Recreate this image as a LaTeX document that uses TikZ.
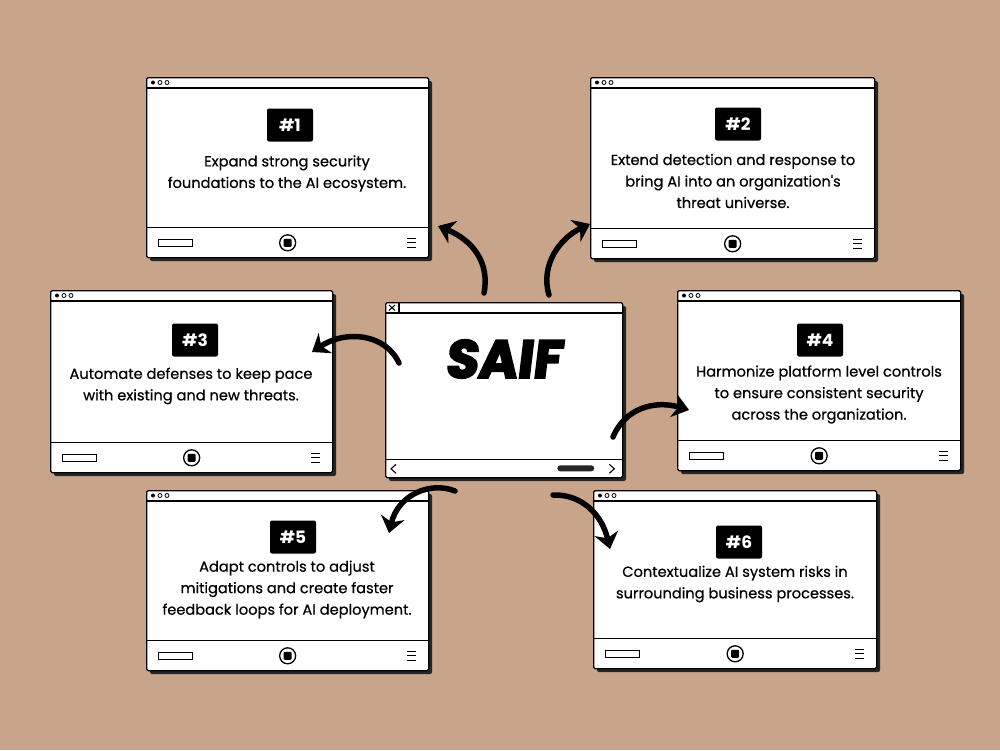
\documentclass[tikz,border=0pt]{standalone}
\usepackage{fontspec}
\setmainfont{Poppins}
\newfontfamily\bodyfont[FakeBold=0.6]{Poppins}
\newfontfamily\saiffont[FakeSlant=0.12,FakeBold=4]{Poppins}
\usetikzlibrary{arrows.meta}
\definecolor{paper}{RGB}{199,164,138}
\definecolor{shadowc}{RGB}{38,38,38}
\tikzset{
 winbody/.style={draw=black, fill=white, line width=1.3pt, rounded corners=1.5pt, inner sep=0pt, anchor=north west},
 shadowbox/.style={fill=shadowc, rounded corners=2pt},
 barline/.style={line width=1.2pt},
 numtag/.style={fill=black, text=white, rounded corners=2pt, minimum width=46pt, minimum height=33pt, font=\fontsize{17}{20}\selectfont\bfseries, inner sep=0pt},
 bodytext/.style={align=center, font=\bodyfont\fontsize{14.6}{21.5}\selectfont, text=black, inner sep=0pt},
 bigarrow/.style={line width=5.5pt, -{Stealth[length=16pt,width=24pt,inset=5pt]}, line cap=round},
}
\newcommand\saifwin[5]{%
 \fill[shadowbox] (#2+4,#3+4) rectangle (#2+#4+4,#3+#5+4);
 \node[winbody, minimum width=#4pt, minimum height=#5pt] (#1) at (#2,#3) {};
 \draw[barline] ([yshift=-11pt]#1.north west) -- ([yshift=-11pt]#1.north east);
 \draw[barline] ([yshift=31pt]#1.south west) -- ([yshift=31pt]#1.south east);
 \fill ([xshift=7pt,yshift=-5.5pt]#1.north west) circle (2pt);
 \draw[line width=0.8pt] ([xshift=14pt,yshift=-5.5pt]#1.north west) circle (2pt);
 \draw[line width=0.8pt] ([xshift=21pt,yshift=-5.5pt]#1.north west) circle (2pt);
 \draw[line width=1pt] ([xshift=12pt,yshift=12pt]#1.south west) rectangle ([xshift=46pt,yshift=19pt]#1.south west);
 \draw[line width=1.3pt] ([yshift=15.5pt]#1.south) circle (8pt);
 \fill[rounded corners=1pt] ([xshift=-4pt,yshift=11.5pt]#1.south) rectangle ([xshift=4pt,yshift=19.5pt]#1.south);
 \foreach \k in {11,15.5,20} \draw[line width=0.9pt] ([xshift=-22pt,yshift=\k pt]#1.south east) -- ([xshift=-13pt,yshift=\k pt]#1.south east);
}
\begin{document}
\begin{tikzpicture}[x=1pt,y=-1pt]
\fill[paper] (0,0) rectangle (1000,750);
\useasboundingbox (0,0) rectangle (1000,750);

% windows
\saifwin{w1}{146}{77}{282}{180}
\saifwin{w2}{590}{77}{284}{181}
\saifwin{w3}{50}{290}{282}{182}
\saifwin{w4}{677}{290}{283}{180}
\saifwin{w5}{146}{490}{282}{180}
\saifwin{w6}{593}{490}{283}{178}

% center window
\fill[shadowbox] (389,306) rectangle (626,481);
\node[winbody, minimum width=237pt, minimum height=175pt] (c) at (385,302) {};
\draw[barline] ([yshift=-11pt]c.north west) -- ([yshift=-11pt]c.north east);
\draw[barline] ([yshift=19pt]c.south west) -- ([yshift=19pt]c.south east);
\draw[line width=1.1pt] ([xshift=14pt]c.north west) -- ([xshift=14pt,yshift=-11pt]c.north west);
\draw[line width=1pt] ([xshift=4pt,yshift=-3pt]c.north west) -- ([xshift=10pt,yshift=-8.5pt]c.north west);
\draw[line width=1pt] ([xshift=10pt,yshift=-3pt]c.north west) -- ([xshift=4pt,yshift=-8.5pt]c.north west);
\draw[line width=1.1pt] ([xshift=11pt,yshift=14pt]c.south west) -- ([xshift=6pt,yshift=9.5pt]c.south west) -- ([xshift=11pt,yshift=5pt]c.south west);
\draw[line width=1.1pt] ([xshift=-14pt,yshift=14pt]c.south east) -- ([xshift=-9pt,yshift=9.5pt]c.south east) -- ([xshift=-14pt,yshift=5pt]c.south east);
\fill[shadowc, rounded corners=3pt] ([xshift=-66pt,yshift=7pt]c.south east) rectangle ([xshift=-29pt,yshift=13pt]c.south east);
\node[font=\saiffont\fontsize{53}{56}\selectfont\bfseries, inner sep=0pt] (saif) at (503,359) {SAIF};

% tags and texts
\node[numtag] (t1) at (290,125) {\#1};
\node[bodytext] (x1) at (287,173.5) {Expand strong security\\foundations to the AI ecosystem.};
\node[numtag] (t2) at (738,124) {\#2};
\node[bodytext] (x2) at (733,181) {Extend detection and response to\\bring AI into an organization's\\threat universe.};
\node[numtag] (t3) at (195,340) {\#3};
\node[bodytext] (x3) at (191,386) {Automate defenses to keep pace\\with existing and new threats.};
\node[numtag] (t4) at (820,340) {\#4};
\node[bodytext] (x4) at (819,394.5) {Harmonize platform level controls\\to ensure consistent security\\across the organization.};
\node[numtag] (t5) at (293,537) {\#5};
\node[bodytext] (x5) at (287,589.5) {Adapt controls to adjust\\mitigations and create faster\\feedback loops for AI deployment.};
\node[numtag] (t6) at (739,542) {\#6};
\node[bodytext] (x6) at (735,584) {Contextualize AI system risks in\\surrounding business processes.};

% arrows
\coordinate (a1s) at (484,293); \coordinate (a1e) at (438,226);
\coordinate (a2s) at (549,295); \coordinate (a2e) at (590,224);
\coordinate (a3s) at (399,363); \coordinate (a3e) at (312,352);
\coordinate (a4s) at (613,437); \coordinate (a4e) at (689,410);
\coordinate (a5s) at (455,491); \coordinate (a5e) at (389,533);
\coordinate (a6s) at (553,495); \coordinate (a6e) at (610,549);
\draw[bigarrow] (a1s) .. controls (490,262) and (472,240) .. (a1e);
\draw[bigarrow] (a2s) .. controls (540,265) and (560,238) .. (a2e);
\draw[bigarrow] (a3s) .. controls (385,333) and (345,330) .. (a3e);
\draw[bigarrow] (a4s) .. controls (625,408) and (655,400) .. (a4e);
\draw[bigarrow] (a5s) .. controls (430,481) and (398,495) .. (a5e);
\draw[bigarrow] (a6s) .. controls (582,494) and (602,515) .. (a6e);
\end{tikzpicture}
\end{document}
